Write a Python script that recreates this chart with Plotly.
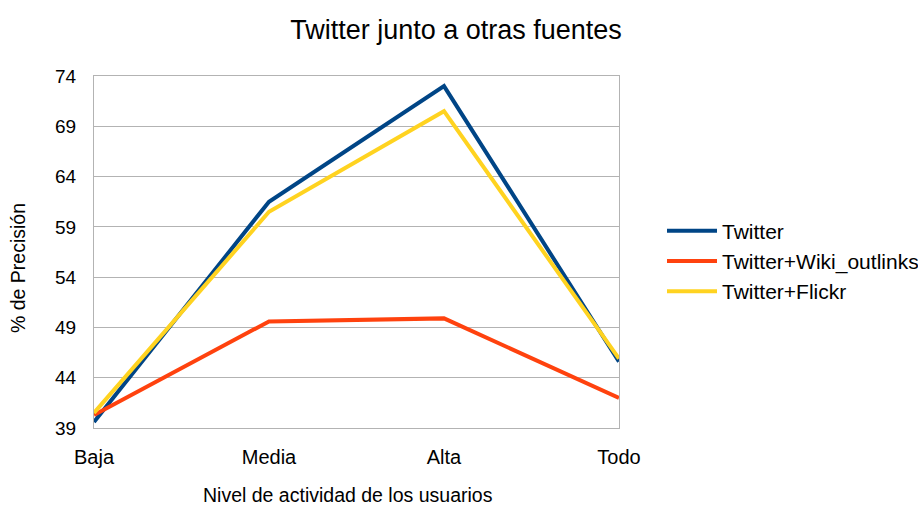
import plotly.graph_objects as go

categories = ["Baja", "Media", "Alta", "Todo"]
twitter = [39.6, 61.5, 73.0, 45.6]
wiki = [40.3, 49.6, 49.9, 42.0]
flickr = [40.5, 60.5, 70.5, 45.9]
yticks = [39, 44, 49, 54, 59, 64, 69, 74]

FONT = "Liberation Sans, Arial, sans-serif"
L, R, T, B = 94, 619, 76, 428
PW, PH = R - L, B - T

fig = go.Figure()
series = [("Twitter", twitter, "#004586"),
          ("Twitter+Wiki_outlinks", wiki, "#ff420e"),
          ("Twitter+Flickr", flickr, "#ffd320")]
for name, vals, col in series:
    fig.add_trace(go.Scatter(x=categories, y=vals, mode="lines", name=name,
                             line=dict(color=col, width=4)))

fig.update_layout(
    width=918, height=505,
    margin=dict(l=L, r=918 - R, t=T, b=505 - B, autoexpand=False),
    plot_bgcolor="white", paper_bgcolor="white",
    font=dict(family=FONT, color="#000000"),
    title=dict(text="Twitter junto a otras fuentes", x=456/918, xanchor="center",
               y=1 - 30/505, yanchor="middle", font=dict(size=27, family=FONT)),
    showlegend=True,
    legend=dict(x=(662 - L)/PW, y=(B - 261)/PH, yanchor="middle", xanchor="left",
                font=dict(size=21, family=FONT), traceorder="normal",
                itemwidth=50, tracegroupgap=0, bgcolor="rgba(0,0,0,0)"),
    xaxis=dict(type="category", categoryorder="array", categoryarray=categories,
               range=[0, 3], showgrid=False, showline=True, mirror=True,
               linecolor="#b3b3b3", linewidth=1, ticks="", tickfont=dict(size=20),
               ticklabelstandoff=11, zeroline=False),
    yaxis=dict(range=[39, 74], tickvals=yticks, showgrid=True, gridcolor="#b3b3b3",
               showline=True, mirror=True, linecolor="#b3b3b3", linewidth=1,
               ticks="", tickfont=dict(size=19), ticklabelstandoff=13,
               zeroline=False),
    annotations=[
        dict(text="Nivel de actividad de los usuarios", xref="paper", yref="paper",
             x=(348 - L)/PW, y=-(495 - B)/PH, xanchor="center", yanchor="middle",
             showarrow=False, font=dict(size=19.5, family=FONT)),
        dict(text="% de Precisión", xref="paper", yref="paper",
             x=-(L - 18)/PW, y=(B - 268)/PH, xanchor="center", yanchor="middle",
             textangle=-90, showarrow=False, font=dict(size=19.5, family=FONT)),
    ],
)

fig.write_html("out.html")
